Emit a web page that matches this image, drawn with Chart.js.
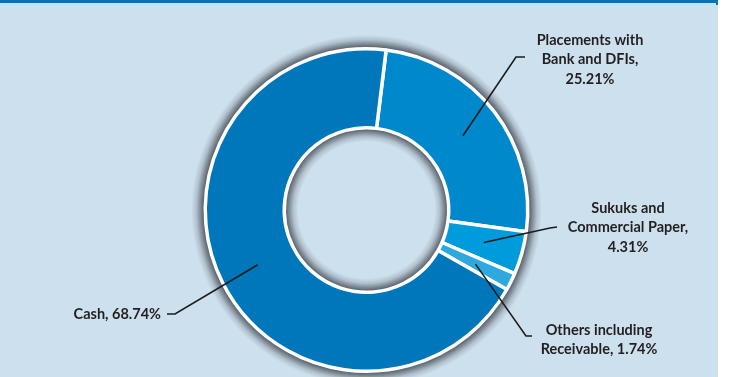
<!DOCTYPE html>
<html>
<head>
<meta charset="utf-8">
<script src="https://cdn.jsdelivr.net/npm/chart.js@4.4.1/dist/chart.umd.min.js"></script>
<style>
  html, body { margin: 0; padding: 0; background: #ffffff; }
  #wrap { width: 733px; height: 377px; position: relative; }
</style>
</head>
<body>
<div id="wrap"><canvas id="chart" width="733" height="377"></canvas></div>
<script>
// Asset mix (% of total)
const categories = [
  "Placements with Bank and DFIs",
  "Sukuks and Commercial Paper",
  "Others including Receivable",
  "Cash"
];
const shares = [25.21, 4.31, 1.74, 68.74];
const sliceColors = ["#0088CD", "#009BDA", "#2EA9E0", "#0077BA"];

// How each callout label is broken into lines
const labelLines = [
  ["Placements with", "Bank and DFIs,"],
  ["Sukuks and", "Commercial Paper,"],
  ["Others including", "Receivable,"],
  ["Cash,"]
];
const valueOnOwnLine = [true, true, false, false];

// Callout placement: text anchor, elbow of the leader line, and end of the short tick
const calloutLayout = [
  { x: 590, y: 40, align: "center", elbow: [516, 57], tick: [525, 57] },
  { x: 628, y: 208, align: "center", elbow: [550, 228], tick: [557, 227] },
  { x: 599, y: 330, align: "center", elbow: [526, 336], tick: [532, 336] },
  { x: 161, y: 314, align: "right", elbow: [175, 314], tick: [167, 314] }
];

const panelColor = "#CDE0EE";
const bandColor = "#0A71B7";
const textColor = "#231F20";
const labelFont = "bold 14.5px Lato, 'Open Sans', sans-serif";
const haloWidth = 14;

function ringGeometry(chart) {
  const a = chart.chartArea;
  const meta = chart.getDatasetMeta(0);
  const cx = (a.left + a.right) / 2;
  const cy = (a.top + a.bottom) / 2;
  let ro = meta.controller && meta.controller.outerRadius;
  let ri = meta.controller && meta.controller.innerRadius;
  if (!isFinite(ro)) ro = Math.min(a.right - a.left, a.bottom - a.top) / 2 - 2;
  if (!isFinite(ri)) ri = ro * 0.51;
  return { cx, cy, ro, ri };
}

function fillAnnulus(ctx, cx, cy, r1, r2, style) {
  ctx.fillStyle = style;
  ctx.beginPath();
  ctx.arc(cx, cy, r2, 0, Math.PI * 2, false);
  ctx.moveTo(cx + r1, cy);
  ctx.arc(cx, cy, r1, 0, Math.PI * 2, true);
  ctx.closePath();
  ctx.fill("evenodd");
}

const decor = {
  id: "decor",
  // Panel background with the thin blue band on top
  beforeDraw(chart) {
    const ctx = chart.ctx;
    ctx.save();
    ctx.fillStyle = "#ffffff";
    ctx.fillRect(0, 0, chart.width, chart.height);
    ctx.fillStyle = panelColor;
    ctx.fillRect(0, 0, 718, chart.height);
    ctx.fillStyle = bandColor;
    ctx.fillRect(0, 0, 718, 3);
    ctx.fillRect(716, 0, 2, 5);
    ctx.restore();
  },
  // Grey halo fading away from the ring, outward and into the hole
  beforeDatasetsDraw(chart) {
    const ctx = chart.ctx;
    const { cx, cy, ro, ri } = ringGeometry(chart);
    ctx.save();
    const outer = ctx.createRadialGradient(cx, cy, ro, cx, cy, ro + haloWidth);
    outer.addColorStop(0, "rgba(50,55,62,0.85)");
    outer.addColorStop(0.3, "rgba(50,55,62,0.55)");
    outer.addColorStop(0.65, "rgba(50,55,62,0.18)");
    outer.addColorStop(1, "rgba(50,55,62,0)");
    fillAnnulus(ctx, cx, cy, ro - 1, ro + haloWidth, outer);

    const inner = ctx.createRadialGradient(cx, cy, ri - haloWidth, cx, cy, ri);
    inner.addColorStop(0, "rgba(50,55,62,0)");
    inner.addColorStop(0.35, "rgba(50,55,62,0.18)");
    inner.addColorStop(0.7, "rgba(50,55,62,0.55)");
    inner.addColorStop(1, "rgba(50,55,62,0.85)");
    fillAnnulus(ctx, cx, cy, ri - haloWidth, ri + 1, inner);
    ctx.restore();
  },
  // Leader lines and callout labels
  afterDatasetsDraw(chart) {
    const ctx = chart.ctx;
    const meta = chart.getDatasetMeta(0);
    ctx.save();
    meta.data.forEach((arc, i) => {
      const lay = calloutLayout[i];
      const p = arc.tooltipPosition();
      ctx.strokeStyle = "#1c1c1c";
      ctx.lineWidth = 1.6;
      ctx.beginPath();
      ctx.moveTo(p.x, p.y);
      ctx.lineTo(lay.elbow[0], lay.elbow[1]);
      ctx.lineTo(lay.tick[0], lay.tick[1]);
      ctx.stroke();

      const value = shares[i].toFixed(2) + "%";
      const lines = labelLines[i].slice();
      if (valueOnOwnLine[i]) lines.push(value);
      else lines[lines.length - 1] += " " + value;

      ctx.fillStyle = textColor;
      ctx.font = labelFont;
      ctx.textAlign = lay.align;
      ctx.textBaseline = "middle";
      lines.forEach((t, k) => ctx.fillText(t, lay.x, lay.y + k * 19.5));
    });
    ctx.restore();
  }
};

new Chart(document.getElementById("chart"), {
  type: "doughnut",
  data: {
    labels: categories,
    datasets: [{
      data: shares,
      backgroundColor: sliceColors,
      borderColor: "#ffffff",
      borderWidth: 3.5
    }]
  },
  options: {
    responsive: false,
    animation: false,
    rotation: 7,
    cutout: "51%",
    layout: { padding: { top: 47, bottom: 4 } },
    plugins: {
      legend: { display: false },
      tooltip: { enabled: false }
    },
    events: []
  },
  plugins: [decor]
});
</script>
</body>
</html>
